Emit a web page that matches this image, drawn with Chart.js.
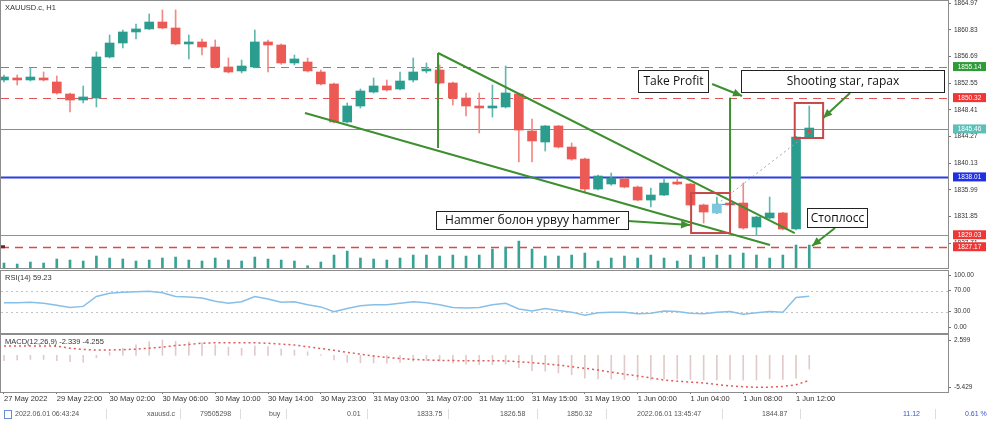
<!DOCTYPE html>
<html>
<head>
<meta charset="utf-8">
<script src="https://cdn.jsdelivr.net/npm/chart.js@4.4.0/dist/chart.umd.min.js"></script>
<style>
  body { margin: 0; background: #fff; width: 1000px; height: 423px; overflow: hidden; position: relative; font-family: "Liberation Sans", Arial, sans-serif; }
  .pane { position: absolute; left: 0; width: 1000px; }
  #status { position: absolute; left: 0; top: 405px; width: 1000px; height: 18px; font-size: 7px; color: #555; }
  #status span { position: absolute; top: 5px; white-space: nowrap; }
  #status i { position: absolute; top: 4px; width: 1px; height: 10px; background: #ddd; }
  #status .blue { color: #3a55c8; }
  #status .box { top: 5px; left: 4px; width: 6px; height: 7px; border: 1px solid #6a8fd0; }
</style>
</head>
<body>
<div class="pane" style="top:0;height:270px"><canvas id="main"></canvas></div>
<div class="pane" style="top:270px;height:64px"><canvas id="rsi"></canvas></div>
<div class="pane" style="top:334px;height:72px"><canvas id="macd"></canvas></div>
<div id="status">
  <span class="box"></span>
  <span style="left:15px">2022.06.01 06:43:24</span><i style="left:106px"></i>
  <span style="left:147px">xauusd.c</span><i style="left:180px"></i>
  <span style="left:200px">79505298</span><i style="left:240px"></i>
  <span style="left:269px">buy</span><i style="left:286px"></i>
  <span style="left:347px">0.01</span><i style="left:367px"></i>
  <span style="left:417px">1833.75</span><i style="left:448px"></i>
  <span style="left:500px">1826.58</span><i style="left:537px"></i>
  <span style="left:567px">1850.32</span><i style="left:606px"></i>
  <span style="left:637px">2022.06.01 13:45:47</span><i style="left:722px"></i>
  <span style="left:762px">1844.87</span><i style="left:800px"></i>
  <span class="blue" style="left:903px">11.12</span><i style="left:935px"></i>
  <span class="blue" style="left:965px">0.61 %</span>
</div>
<script>
// Candles (H1)
const opens = [1853.06, 1853.21, 1853.06, 1853.37, 1852.75, 1850.88, 1849.95, 1850.26, 1856.63, 1858.80,
  1860.51, 1860.98, 1862.06, 1861.13, 1858.65, 1858.96, 1858.18, 1855.08, 1854.46, 1855.08,
  1858.96, 1858.49, 1855.70, 1855.85, 1854.30, 1852.44, 1846.54, 1849.02, 1851.19, 1852.13,
  1851.66, 1853.06, 1854.46, 1854.61, 1852.59, 1850.26, 1849.02, 1848.71, 1848.87, 1850.88,
  1845.14, 1843.43, 1845.92, 1842.65, 1840.79, 1836.13, 1836.91, 1837.69, 1836.44, 1834.42,
  1835.20, 1837.22, 1836.91, 1833.65, 1832.41, 1833.80, 1833.96, 1830.23, 1831.63, 1832.41,
  1829.92, 1844.21];
const highs = [1853.83, 1853.83, 1854.92, 1854.30, 1853.68, 1851.04, 1852.13, 1857.41, 1860.05, 1860.82,
  1861.75, 1863.31, 1863.93, 1863.93, 1860.05, 1859.42, 1859.27, 1856.47, 1856.16, 1860.82,
  1859.27, 1858.65, 1856.94, 1856.47, 1854.61, 1852.59, 1849.49, 1851.66, 1853.37, 1853.06,
  1854.30, 1856.47, 1855.70, 1855.39, 1852.75, 1851.04, 1851.04, 1852.28, 1855.23, 1851.04,
  1847.00, 1846.00, 1846.00, 1843.28, 1840.95, 1838.30, 1838.62, 1837.84, 1836.60, 1836.29,
  1837.69, 1837.84, 1837.00, 1833.80, 1834.89, 1834.10, 1837.06, 1831.90, 1834.89, 1832.50,
  1844.30, 1849.02];
const lows = [1852.75, 1852.28, 1852.90, 1852.90, 1850.88, 1848.09, 1849.49, 1848.87, 1856.47, 1858.03,
  1859.42, 1860.90, 1861.00, 1858.50, 1856.32, 1856.94, 1854.90, 1854.15, 1854.15, 1854.92,
  1854.30, 1855.50, 1855.39, 1854.30, 1852.28, 1846.38, 1846.38, 1848.71, 1851.04, 1851.35,
  1851.51, 1852.75, 1854.15, 1852.44, 1849.18, 1847.47, 1844.83, 1847.31, 1848.71, 1840.33,
  1840.33, 1842.03, 1842.50, 1840.60, 1835.51, 1836.00, 1836.70, 1836.30, 1834.30, 1833.34,
  1835.10, 1836.80, 1833.50, 1830.85, 1832.30, 1833.30, 1829.90, 1828.99, 1831.50, 1829.80,
  1829.80, 1844.20];
const closes = [1853.52, 1853.06, 1853.52, 1853.06, 1851.04, 1849.95, 1850.42, 1856.63, 1858.80, 1860.51,
  1860.98, 1862.06, 1861.13, 1858.65, 1858.80, 1858.18, 1855.08, 1854.30, 1855.23, 1858.96,
  1858.49, 1855.70, 1856.32, 1854.46, 1852.44, 1846.54, 1849.02, 1851.35, 1852.13, 1851.51,
  1852.90, 1854.30, 1854.77, 1852.59, 1850.26, 1849.02, 1848.71, 1848.87, 1851.04, 1845.29,
  1843.59, 1845.92, 1842.65, 1840.79, 1836.13, 1838.15, 1837.84, 1836.44, 1834.42, 1835.20,
  1837.06, 1836.91, 1833.65, 1832.56, 1833.80, 1833.65, 1830.08, 1831.78, 1832.41, 1829.92,
  1844.21, 1845.60];
const volumes = [1000, 800, 1200, 1000, 1800, 1600, 1400, 2400, 2000, 1800,
  1400, 1600, 2000, 2200, 1600, 1400, 2000, 1600, 1400, 2200,
  1800, 1600, 1400, 460, 1200, 2600, 3400, 2000, 1800, 1600,
  2000, 2600, 2600, 2400, 2600, 2400, 2600, 3800, 4200, 5400,
  3800, 2400, 2400, 2600, 3000, 1400, 2000, 2400, 2000, 2600,
  2000, 1400, 2600, 2200, 2600, 2600, 3000, 2600, 2000, 2600,
  4600, 4600];

// Indicators
const rsiValues = [47, 47, 48, 46, 42, 38, 40, 59, 65, 67,
  68, 69, 66, 59, 58, 56, 50, 46, 49, 59,
  54, 48, 49, 43, 39, 30, 36, 41, 43, 43,
  46, 49, 47, 43, 38, 37, 38, 43, 46, 35,
  31, 36, 32, 29, 23, 28, 29, 29, 26, 27,
  31, 30, 27, 26, 29, 30, 25, 28, 30, 29,
  57, 59.23];
const macdMain = [-0.9, -0.8, -0.7, -0.7, -0.9, -1.1, -1.2, -0.4, 0.5, 1.2,
  1.8, 2.3, 2.599, 2.4, 2.3, 2.1, 1.8, 1.4, 1.2, 1.6,
  1.5, 1.1, 0.9, 0.6, 0.1, -0.8, -1.2, -1.3, -1.3, -1.3,
  -1.2, -1.0, -0.9, -1.0, -1.3, -1.5, -1.6, -1.6, -1.5, -2.1,
  -2.6, -2.7, -3.0, -3.3, -3.9, -4.0, -4.0, -4.1, -4.2, -4.2,
  -4.0, -4.0, -4.1, -4.2, -4.2, -4.1, -4.2, -4.2, -4.0, -4.1,
  -3.9, -2.339];
const macdSignal = [1.6, 1.6, 1.6, 1.6, 1.55, 1.2, 1.0, 0.9, 0.9, 0.95,
  1.05, 1.2, 1.4, 1.65, 1.85, 2.05, 2.14, 2.14, 2.14, 2.12,
  2.05, 1.9, 1.75, 1.45, 1.15, 0.85, 0.5, 0.2, -0.12, -0.35,
  -0.55, -0.7, -0.8, -0.86, -0.9, -0.92, -0.92, -0.92, -0.95, -1.1,
  -1.25, -1.45, -1.65, -1.95, -2.2, -2.5, -2.85, -3.2, -3.5, -3.85,
  -4.2, -4.4, -4.55, -4.7, -4.95, -5.2, -5.33, -5.429, -5.4, -5.3,
  -5.0, -4.255];

// Axis ticks
const priceTicks = [1864.97, 1860.83, 1856.69, 1852.55, 1848.41, 1844.27, 1840.13, 1835.99, 1831.85, 1827.71];
const rsiTicks = [100, 70, 30, 0];
const macdTicks = [2.599, -5.429];
const timeTickIndex = [0, 4, 8, 12, 16, 20, 24, 28, 32, 36, 40, 44, 48, 52, 56, 60];
const timeLabels = ["27 May 2022", "29 May 22:00", "30 May 02:00", "30 May 06:00", "30 May 10:00", "30 May 14:00",
  "30 May 23:00", "31 May 03:00", "31 May 07:00", "31 May 11:00", "31 May 15:00", "31 May 19:00",
  "1 Jun 00:00", "1 Jun 04:00", "1 Jun 08:00", "1 Jun 12:00"];

// Horizontal levels
const levelPrices = [1855.14, 1850.32, 1845.46, 1838.01, 1829.03, 1827.17];
const levelStyles = [
  { stroke: "#5aa05a", pattern: [8, 6], lw: 1, tag: "#2e9a38" },
  { stroke: "#e05555", pattern: [8, 6], lw: 1, tag: "#f03535" },
  { stroke: "#3aafa2", pattern: [1, 0], lw: 1, tag: "#5cc0b8" },
  { stroke: "#2c3ee0", pattern: [1, 0], lw: 2, tag: "#2030e0" },
  { stroke: "#f06a6a", pattern: [1, 0], lw: 1, tag: "#f03535" },
  { stroke: "#e04848", pattern: [8, 6], lw: 1.3, tag: "#f03535" }
];

// Drawn objects, in (candle index, price)
const trendLines = [
  [32.88, 1857.25, 59.9, 1829.30],
  [22.8, 1847.93, 58.03, 1827.44],
  [32.88, 1857.25, 32.88, 1842.50],
  [55.0, 1850.32, 55.0, 1835.51]
];
const markBoxes = [
  [52.05, 1835.51, 55.0, 1829.30],
  [59.9, 1849.49, 62.05, 1844.05]
];
const arrows = [
  [53.64, 1852.44, 55.91, 1850.57],
  [64.09, 1851.04, 62.05, 1847.16],
  [47.27, 1831.16, 51.97, 1830.54],
  [62.95, 1830.08, 61.21, 1827.28]
];
const notes = [
  ["Take Profit", 48.03, 1854.61, 53.33, 1851.19],
  ["Shooting star, гарах", 55.83, 1854.61, 71.21, 1851.19],
  ["Hammer болон урвуу hammer", 32.73, 1832.72, 47.27, 1829.92],
  ["Стоплосс", 60.83, 1833.18, 65.38, 1830.23]
];
const entryIndex = 54, entryPrice = 1833.75;
const exitIndex = 61, exitPrice = 1844.87;

const UP = "#2a9d8f", DOWN = "#ec5a55";
const xMin = -0.227, xMax = 71.51;
const axisFont = { family: "Liberation Sans", size: 6.5 };

function xScale(display) {
  const s = {
    type: "linear", min: xMin, max: xMax, offset: false, display: display,
    grid: { offset: false, drawOnChartArea: false, tickLength: 2, color: "#777" },
    border: { color: "#8c8c8c" }
  };
  if (display) {
    s.afterBuildTicks = sc => { sc.ticks = timeTickIndex.map(v => ({ value: v })); };
    s.afterFit = sc => { sc.height = 14; sc.paddingLeft = 0; sc.paddingRight = 0; };
    s.ticks = {
      autoSkip: false, maxRotation: 0, align: "start", padding: 0, color: "#333",
      font: { family: "Liberation Sans", size: 7.5 },
      callback: v => timeLabels[timeTickIndex.indexOf(v)]
    };
  }
  return s;
}

function rightAxis(min, max, ticks, digits) {
  return {
    position: "right", min: min, max: max,
    afterFit: s => { s.width = 52; s.paddingTop = 0; s.paddingBottom = 0; },
    afterBuildTicks: s => { s.ticks = ticks.map(v => ({ value: v })); },
    grid: { drawOnChartArea: false, tickLength: 3, color: "#777" },
    border: { color: "#8c8c8c" },
    ticks: { color: "#333", font: axisFont, padding: 3, callback: v => v.toFixed(digits) }
  };
}

// Frame, title, horizontal levels and their axis tags
function panelPlugin(title, lines) {
  return {
    id: "panel",
    beforeDatasetsDraw(chart) {
      const { ctx, chartArea: a, scales: { y } } = chart;
      ctx.save();
      lines.forEach(l => {
        const py = Math.round(y.getPixelForValue(l.value)) + 0.5;
        ctx.strokeStyle = l.stroke; ctx.lineWidth = l.lw; ctx.setLineDash(l.pattern);
        ctx.beginPath(); ctx.moveTo(a.left, py); ctx.lineTo(a.right, py); ctx.stroke();
      });
      ctx.restore();
    },
    afterDraw(chart) {
      const { ctx, chartArea: a, scales: { y } } = chart;
      ctx.save();
      ctx.strokeStyle = "#8c8c8c"; ctx.lineWidth = 1;
      ctx.strokeRect(a.left - 0.5, a.top - 0.5, a.right - a.left + 1, a.bottom - a.top + 1);
      ctx.fillStyle = "#333"; ctx.font = "7.5px 'Liberation Sans'"; ctx.textBaseline = "middle";
      ctx.fillText(title, a.left + 4, a.top + 7);
      lines.filter(l => l.tag).forEach(l => {
        const py = y.getPixelForValue(l.value);
        ctx.fillStyle = l.tag; ctx.fillRect(a.right + 5, py - 4.5, 33, 9);
        ctx.fillStyle = "#fff"; ctx.font = "6.5px 'Liberation Sans'"; ctx.textAlign = "center";
        ctx.fillText(l.value.toFixed(2), a.right + 21.5, py + 0.5);
        ctx.textAlign = "left";
      });
      ctx.restore();
    }
  };
}

function arrowHead(ctx, x1, y1, x2, y2) {
  const ang = Math.atan2(y2 - y1, x2 - x1), len = 9, w = 4;
  ctx.beginPath();
  ctx.moveTo(x2, y2);
  ctx.lineTo(x2 - len * Math.cos(ang) + w * Math.sin(ang), y2 - len * Math.sin(ang) - w * Math.cos(ang));
  ctx.lineTo(x2 - len * Math.cos(ang) - w * Math.sin(ang), y2 - len * Math.sin(ang) + w * Math.cos(ang));
  ctx.closePath(); ctx.fill();
}

// Wedge, boxes, arrows and notes on the price chart
const drawingsPlugin = {
  id: "drawings",
  afterDatasetsDraw(chart) {
    const { ctx, scales: { x, y } } = chart;
    const X = v => x.getPixelForValue(v), Y = v => y.getPixelForValue(v);
    ctx.save();
    // trade line
    ctx.strokeStyle = "#9aa4b0"; ctx.lineWidth = 1; ctx.setLineDash([2, 3]);
    ctx.beginPath(); ctx.moveTo(X(entryIndex), Y(entryPrice)); ctx.lineTo(X(exitIndex), Y(exitPrice)); ctx.stroke();
    ctx.strokeStyle = "#4a78b8"; ctx.setLineDash([4, 3]);
    ctx.beginPath(); ctx.moveTo(X(entryIndex) + 5, Y(entryPrice)); ctx.lineTo(X(entryIndex + 1.5), Y(entryPrice)); ctx.stroke();
    ctx.setLineDash([]);
    ctx.fillStyle = "#e04a4a";
    ctx.beginPath(); ctx.arc(X(exitIndex), Y(exitPrice) - 1, 2, 0, Math.PI * 2); ctx.fill();
    // wedge and take-profit lines
    ctx.strokeStyle = "#3d8f2f"; ctx.lineWidth = 2;
    trendLines.forEach(t => {
      ctx.beginPath(); ctx.moveTo(X(t[0]), Y(t[1])); ctx.lineTo(X(t[2]), Y(t[3])); ctx.stroke();
    });
    // pattern boxes
    ctx.strokeStyle = "#c84848"; ctx.lineWidth = 2;
    markBoxes.forEach(b => {
      ctx.strokeRect(X(b[0]), Y(b[1]), X(b[2]) - X(b[0]), Y(b[3]) - Y(b[1]));
    });
    // arrows
    ctx.strokeStyle = "#3d8f2f"; ctx.fillStyle = "#3d8f2f"; ctx.lineWidth = 2;
    arrows.forEach(r => {
      const x1 = X(r[0]), y1 = Y(r[1]), x2 = X(r[2]), y2 = Y(r[3]);
      ctx.beginPath(); ctx.moveTo(x1, y1); ctx.lineTo(x2, y2); ctx.stroke();
      arrowHead(ctx, x1, y1, x2, y2);
    });
    // notes
    ctx.font = "12px 'Open Sans'"; ctx.textAlign = "center"; ctx.textBaseline = "middle";
    notes.forEach(n => {
      const l = Math.round(X(n[1])) + 0.5, t = Math.round(Y(n[2])) + 0.5;
      const w = Math.round(X(n[3]) - X(n[1])), h = Math.round(Y(n[4]) - Y(n[2]));
      ctx.fillStyle = "#fff"; ctx.fillRect(l, t, w, h);
      ctx.strokeStyle = "#222"; ctx.lineWidth = 1; ctx.strokeRect(l, t, w, h);
      ctx.fillStyle = "#111"; ctx.fillText(n[0], l + w / 2, t + h / 2 + 0.5);
    });
    // stop-loss marker on the left edge
    ctx.fillStyle = "#7a2020";
    ctx.fillRect(chart.chartArea.left, Y(levelPrices[5]) - 1.5, 4, 3);
    ctx.restore();
  }
};

const idx = opens.map((v, i) => i);
const bodyColors = idx.map(i => i === entryIndex ? "#7cc6de" : (closes[i] >= opens[i] ? UP : DOWN));
const wickColors = idx.map(i => closes[i] >= opens[i] ? "#62b8ad" : "#ef8a86");
const levelLines = levelPrices.map((v, i) => Object.assign({ value: v }, levelStyles[i]));
const rsiLines = [
  { value: 70, stroke: "#c4c4c4", pattern: [2, 3], lw: 1 },
  { value: 30, stroke: "#c4c4c4", pattern: [2, 3], lw: 1 }
];

const common = {
  responsive: true, maintainAspectRatio: false, animation: false, events: [],
  plugins: { legend: { display: false }, tooltip: { enabled: false } }
};

new Chart(document.getElementById("main"), {
  type: "bar",
  data: {
    datasets: [
      { label: "Volume", data: idx.map(i => ({ x: i, y: volumes[i] })), yAxisID: "yv",
        backgroundColor: "#38a395", barThickness: 2, grouped: false, order: 3 },
      { label: "Wick", data: idx.map(i => ({ x: i, y: [lows[i], highs[i]] })), yAxisID: "y",
        backgroundColor: wickColors, barThickness: 1, grouped: false, order: 2 },
      { label: "Body", data: idx.map(i => ({ x: i, y: [opens[i], closes[i]] })), yAxisID: "y",
        backgroundColor: bodyColors, barThickness: 9, minBarLength: 2, grouped: false, order: 1 }
    ]
  },
  options: Object.assign({}, common, {
    layout: { padding: { top: 1, left: 1, right: 0, bottom: 2 } },
    scales: {
      x: xScale(false),
      y: rightAxis(1823.87, 1865.32, priceTicks, 2),
      yv: { display: false, min: 0, max: 53600 }
    }
  }),
  plugins: [panelPlugin("XAUUSD.c, H1", levelLines), drawingsPlugin]
});

new Chart(document.getElementById("rsi"), {
  type: "line",
  data: {
    datasets: [{ data: idx.map(i => ({ x: i, y: rsiValues[i] })), borderColor: "#86bfe8",
      borderWidth: 1.5, pointRadius: 0, tension: 0 }]
  },
  options: Object.assign({}, common, {
    layout: { padding: { top: 1, left: 1, right: 0, bottom: 1 } },
    scales: { x: xScale(false), y: rightAxis(-10.9, 107.65, rsiTicks, 2) }
  }),
  plugins: [panelPlugin("RSI(14) 59.23", rsiLines)]
});

new Chart(document.getElementById("macd"), {
  type: "bar",
  data: {
    datasets: [
      { type: "line", data: idx.map(i => ({ x: i, y: macdSignal[i] })), borderColor: "#e05a5a",
        borderWidth: 1.5, borderDash: [2, 3], pointRadius: 0, order: 1 },
      { data: idx.map(i => ({ x: i, y: macdMain[i] })), backgroundColor: "#e2caca",
        barThickness: 1, grouped: false, order: 2 }
    ]
  },
  options: Object.assign({}, common, {
    layout: { padding: { top: 1, left: 1, right: 0, bottom: 0 } },
    scales: { x: xScale(true), y: rightAxis(-6.23, 3.448, macdTicks, 3) }
  }),
  plugins: [panelPlugin("MACD(12,26,9) -2.339 -4.255", [])]
});
</script>
</body>
</html>
